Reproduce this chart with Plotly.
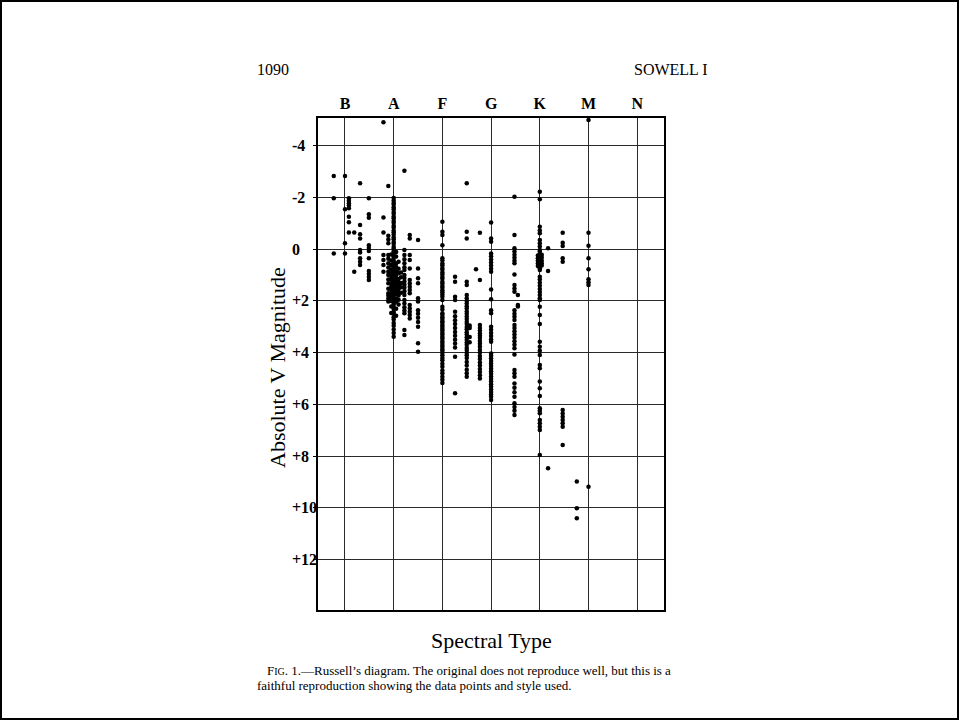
import plotly.graph_objects as go

# Spectral classes shown on the top axis (B=1, A=2, ... N=7)
class_pos = [1, 2, 3, 4, 5, 6, 7]
class_labels = ["B", "A", "F", "G", "K", "M", "N"]

# Magnitude ticks
mag_ticks = [-4, -2, 0, 2, 4, 6, 8, 10, 12]
mag_tick_labels = ["-4", "-2", "0", "+2", "+4", "+6", "+8", "+10", "+12"]

# Column positions (spectral type) and magnitudes
col_x = [0.77, 1.00, 1.08, 1.19, 1.31, 1.49, 1.79, 1.89,
         1.95, 2.00, 2.05, 2.10, 2.15, 2.22, 2.33, 2.50,
         3.00, 3.26, 3.50, 3.56, 3.69, 3.77, 4.00, 4.48, 4.55,
         4.96, 5.00, 5.04, 5.17, 5.47, 5.76, 6.00]

mag_077 = [-2.82, -1.96, 0.17]
mag_100 = [-2.82, -1.54, -0.22, 0.17]
mag_108 = [-1.96, -1.86, -1.77, -1.68, -1.57, -1.25, -1.03, -0.64]
mag_119 = [-0.64, 0.88]
mag_131 = [-2.54, -0.93, -0.57, -0.41, 0.04, 0.13, 0.36, 0.49, 0.62]
mag_149 = [-1.96, -1.34, -1.21, -0.15, -0.04, 0.08, 0.36, 0.85, 0.96, 1.08, 1.2]
mag_179 = [-4.9, -1.22, -0.64, 0.23, 0.42, 0.62, 0.88]
mag_189 = [-2.43, -0.51, -0.37, -0.22, 0.23, 0.38, 0.55, 0.71, 0.88, 1.0,
           1.18, 1.32, 1.53, 1.71, 1.8, 1.92, 2.03]
mag_195 = [0.21, 0.44, 0.62, 0.79, 0.94, 1.06, 1.19, 1.33, 1.46, 1.58, 1.73,
           1.86, 2.01, 2.22, 2.47]
mag_200 = [-1.97, -1.87, -1.79, -1.72, -1.61, -1.54, -1.43, -1.36, -1.26, -1.19,
           -1.08, -1.01, -0.9, -0.83, -0.72, -0.65, -0.56, -0.45, -0.38, -0.27,
           -0.2, -0.09, -0.02, 0.09, 0.16, 0.27, 0.34, 0.45, 0.52, 0.63, 0.7,
           0.81, 0.88, 0.99, 1.06, 1.17, 1.24, 1.35, 1.42, 1.53, 1.6, 1.71,
           1.78, 1.89, 1.96, 2.07, 2.14, 2.25, 2.32, 2.43, 2.5, 2.63, 2.72,
           2.86, 2.96, 3.11, 3.24, 3.39]
mag_205 = [0.11, 0.29, 0.56, 0.69, 0.86, 0.99, 1.11, 1.24, 1.39, 1.49, 1.63,
           1.74, 1.91, 2.04, 2.31, 2.58]
mag_210 = [0.49, 0.76, 0.94, 1.16, 1.29, 1.43, 1.54, 1.69, 1.79, 1.96, 2.14]
mag_215 = [0.91, 1.09, 1.31, 1.48, 1.69]
mag_222 = [-3.02, 0.04, 0.23, 0.39, 0.55, 0.7, 0.81, 1.0, 1.12, 1.25, 1.38,
           1.5, 1.63, 1.78, 1.97, 2.1, 2.25, 2.37, 2.48, 3.13, 3.32]
mag_233 = [-0.54, -0.41, 0.23, 0.42, 0.75, 1.2, 1.33, 1.46, 1.58, 1.71, 2.16,
           2.3, 2.42, 2.55, 2.68]
mag_250 = [-0.35, 0.75, 1.13, 1.32, 1.9, 2.03, 2.36, 2.5, 2.65, 2.82, 3.0,
           3.64, 3.97]
mag_300 = [-1.05, -0.67, -0.54, -0.15, 0.36, 0.44, 0.56, 0.63, 0.73, 0.8, 0.91,
           0.98, 1.08, 1.15, 1.26, 1.33, 1.43, 1.5, 1.59, 1.67, 1.76, 1.84, 1.97,
           2.23, 2.34, 2.48, 2.55, 2.63, 2.7, 2.79, 2.85, 2.93, 3.0, 3.08, 3.15,
           3.23, 3.3, 3.39, 3.46, 3.55, 3.62, 3.71, 3.77, 3.86, 3.92, 4.01, 4.1,
           4.21, 4.3, 4.43, 4.55, 4.69, 4.8, 4.93, 5.05, 5.17]
mag_326 = [1.07, 1.26, 1.84, 1.97, 2.42, 2.6, 2.75, 2.9, 3.05, 3.2, 3.35, 3.5,
           3.65, 3.8, 4.16, 5.57]
mag_350 = [-2.54, -0.67, -0.41, 1.26, 1.39, 1.78, 1.9, 2.01, 2.1, 2.21, 2.3,
           2.41, 2.5, 2.61, 2.7, 2.81, 2.9, 3.01, 3.1, 3.21, 3.3, 3.41, 3.5,
           3.61, 3.7, 3.81, 3.9, 4.01, 4.1, 4.21, 4.36, 4.5, 4.66, 4.8, 4.93]
mag_356 = [2.95, 3.05, 3.4, 3.6]
mag_369 = [0.78]
mag_377 = [-0.63, 1.2, 2.93, 3.05, 3.15, 3.26, 3.35, 3.44, 3.55, 3.66, 3.77,
           3.9, 4.0, 4.13, 4.25, 4.38, 4.5, 4.63, 4.75, 4.87, 5.0]
mag_400 = [-1.02, -0.41, -0.28, 0.17, 0.28, 0.4, 0.52, 0.64, 0.76, 0.88, 1.56,
           1.94, 2.36, 2.48, 3.0, 3.12, 3.24, 3.36, 3.48, 3.58, 4.03, 4.12, 4.22,
           4.32, 4.42, 4.52, 4.62, 4.72, 4.82, 4.92, 5.02, 5.12, 5.22, 5.32,
           5.42, 5.52, 5.62, 5.7, 5.83]
mag_448 = [-2.02, -0.54, -0.03, 0.1, 0.22, 0.34, 0.45, 0.55, 0.98, 1.39, 1.52,
           1.65, 2.36, 2.5, 2.62, 2.74, 2.93, 3.05, 3.18, 3.3, 3.43, 3.56, 3.7,
           3.83, 4.07, 4.67, 4.8, 4.93, 5.19, 5.36, 5.53, 5.7, 5.96, 6.1, 6.25,
           6.41]
mag_455 = [1.78, 2.16, 2.22]
mag_496 = [0.25, 0.36, 0.45, 0.56, 0.66]
mag_500 = [-2.21, -1.92, -0.86, -0.72, -0.61, -0.35, -0.22, -0.1, 0.04, 0.1,
           0.18, 0.26, 0.34, 0.42, 0.5, 0.58, 0.66, 0.74, 0.81, 1.07, 1.18, 1.3,
           1.42, 1.54, 1.66, 1.78, 1.9, 1.97, 2.23, 2.55, 2.9, 3.58, 3.77, 3.93,
           4.09, 4.48, 4.6, 5.12, 5.38, 5.68, 6.15, 6.25, 6.34, 6.6, 6.73, 6.86,
           6.99, 7.95]
mag_504 = [0.22, 0.33, 0.44, 0.55, 0.64]
mag_517 = [-0.03, 0.85, 8.47]
mag_547 = [-0.63, -0.24, -0.12, 0.36, 0.49, 6.22, 6.35, 6.48, 6.6, 6.73, 6.86,
           7.57]
mag_576 = [8.98, 10.01, 10.4]
mag_600 = [-4.98, -0.63, -0.13, 0.36, 0.78, 1.17, 1.28, 1.39, 9.18]

col_mags = [mag_077, mag_100, mag_108, mag_119, mag_131, mag_149, mag_179,
            mag_189, mag_195, mag_200, mag_205, mag_210, mag_215, mag_222,
            mag_233, mag_250, mag_300, mag_326, mag_350, mag_356, mag_369,
            mag_377, mag_400, mag_448, mag_455, mag_496, mag_500, mag_504,
            mag_517, mag_547, mag_576, mag_600]

xs, ys = [], []
for x, mags in zip(col_x, col_mags):
    xs += [x] * len(mags)
    ys += mags

SERIF = "Liberation Serif, Times New Roman, serif"

fig = go.Figure()
fig.add_trace(go.Scatter(
    x=xs, y=ys, mode="markers",
    marker=dict(size=4.5, color="black", line=dict(width=0)),
    hoverinfo="skip", showlegend=False,
))

L, R, T, B = 318, 296, 118, 111
W, H = 960, 721
pw, ph = W - L - R, H - T - B


def px_x(px):
    return (px - L) / pw


def px_y(py):
    return 1 - (py - T) / ph


annotations = []
for v, lab in zip(mag_ticks, mag_tick_labels):
    annotations.append(dict(
        x=px_x(290), y=v, xref="paper", yref="y", text=lab, showarrow=False,
        xanchor="left", yanchor="middle",
        font=dict(family=SERIF, size=16, color="black", weight="bold"),
    ))

annotations += [
    dict(x=px_x(255), y=px_y(69), xref="paper", yref="paper", text="1090",
         showarrow=False, xanchor="left", yanchor="middle",
         font=dict(family=SERIF, size=16, color="black")),
    dict(x=px_x(632), y=px_y(69), xref="paper", yref="paper", text="SOWELL I",
         showarrow=False, xanchor="left", yanchor="middle",
         font=dict(family=SERIF, size=16, color="black")),
    dict(x=px_x(277), y=px_y(368), xref="paper", yref="paper",
         text="Absolute V Magnitude", textangle=-90, showarrow=False,
         xanchor="center", yanchor="middle",
         font=dict(family=SERIF, size=22, color="black")),
    dict(x=px_x(491), y=px_y(640), xref="paper", yref="paper",
         text="Spectral Type", showarrow=False, xanchor="center", yanchor="middle",
         font=dict(family=SERIF, size=22, color="black")),
    dict(x=px_x(265), y=px_y(670), xref="paper", yref="paper",
         text="F<span style='font-size:10px'>IG</span>. 1.\u2014Russell\u2019s diagram. "
              "The original does not reproduce well, but this is a",
         showarrow=False, xanchor="left", yanchor="middle",
         font=dict(family=SERIF, size=13, color="black")),
    dict(x=px_x(255), y=px_y(685), xref="paper", yref="paper",
         text="faithful reproduction showing the data points and style used.",
         showarrow=False, xanchor="left", yanchor="middle",
         font=dict(family=SERIF, size=13, color="black")),
]

fig.update_layout(
    width=W, height=H,
    margin=dict(l=L, r=R, t=T, b=B, pad=0),
    paper_bgcolor="white", plot_bgcolor="white",
    annotations=annotations,
    shapes=[dict(type="rect", xref="paper", yref="paper",
                 x0=px_x(1), x1=px_x(958), y0=px_y(719), y1=px_y(1),
                 line=dict(color="black", width=2), layer="below")],
    xaxis=dict(
        range=[0.446, 7.55], side="top", tickmode="array",
        tickvals=class_pos, ticktext=class_labels,
        tickfont=dict(family=SERIF, size=16, color="black", weight="bold"),
        ticks="", ticklabelstandoff=1,
        showgrid=True, gridcolor="#2a2a2a", gridwidth=1.4,
        showline=True, linecolor="black", linewidth=2, mirror=True,
        zeroline=False, fixedrange=True,
    ),
    yaxis=dict(
        range=[13.94, -5.06], tickmode="array", tickvals=mag_ticks,
        showticklabels=False, ticks="outside", ticklen=3, tickcolor="black",
        showgrid=True, gridcolor="#2a2a2a", gridwidth=1.4,
        showline=True, linecolor="black", linewidth=2, mirror=True,
        zeroline=False, fixedrange=True,
    ),
)

fig.write_html("out.html")
